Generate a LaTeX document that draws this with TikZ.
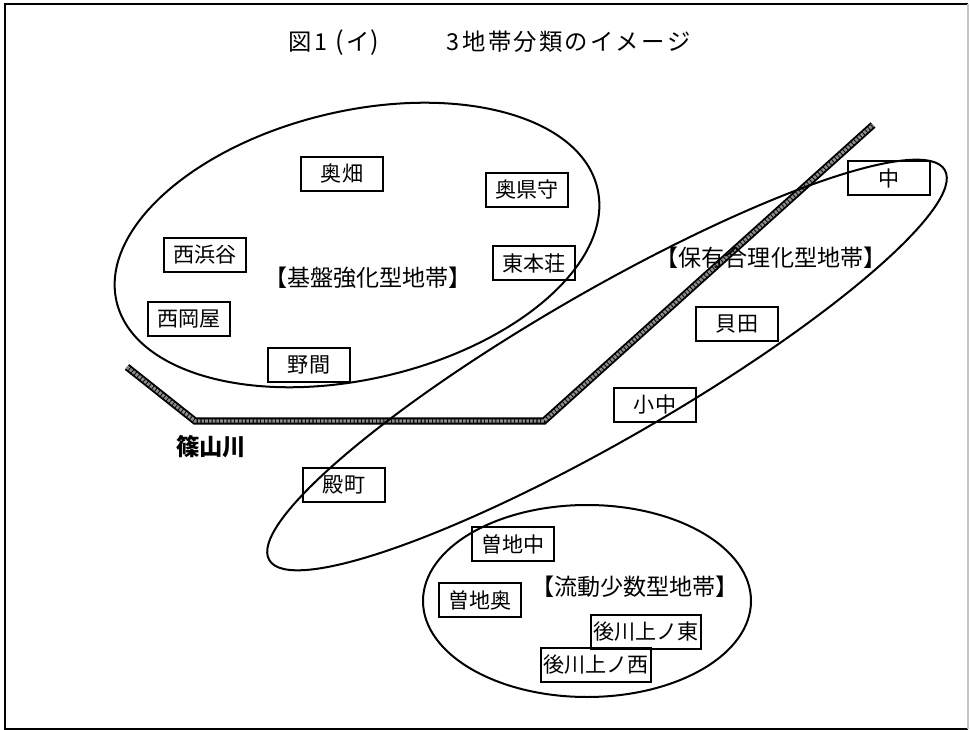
\documentclass[tikz,border=0pt]{standalone}
\usepackage{fontspec}
\newfontfamily\jp{Noto Sans CJK JP}
\newcommand\tcell[2]{\makebox[#1pt][c]{#2}}
\begin{document}
\begin{tikzpicture}[x=0.75pt,y=-0.75pt,
  box/.style={draw, line width=0.9pt, minimum width=61.5pt, minimum height=25.5pt,
    inner sep=0pt, font=\jp\fontsize{15.8pt}{15.8pt}\selectfont},
  wbox/.style={box, minimum width=82.5pt},
  zone/.style={inner sep=0pt, font=\jp\fontsize{17.3pt}{17.3pt}\selectfont},
  ring/.style={draw, line width=1.5pt},
  riverout/.style={line width=5.4pt, black, line join=miter},
  riverin/.style={line width=2.6pt, black!45, line join=miter, dash pattern=on 2pt off 0.8pt},
]
\useasboundingbox (0,0) rectangle (970,730);
% frame
\draw[line width=1.6pt] (968,4) -- (5,4) -- (5,729) -- (968,729);
\draw[line width=0.9pt, gray!45] (968,4) -- (968,729);

% title
\node[anchor=west, inner sep=0pt, font=\jp\fontsize{17.5pt}{17.5pt}\selectfont] (title) at (289,43)
 {\tcell{16.5}{図}\tcell{14.5}{1}\tcell{13.25}{\fontsize{19pt}{19pt}\selectfont(}\tcell{14.25}{イ}\tcell{12}{\fontsize{19pt}{19pt}\selectfont)}\hspace{46.5pt}\tcell{12}{3}%
  \tcell{19.2}{地}\tcell{19.2}{帯}\tcell{19.2}{分}\tcell{19.2}{類}\tcell{19.2}{の}\tcell{19.2}{イ}\tcell{19.2}{メ}\tcell{19.2}{ー}\tcell{19.2}{ジ}};

% river
\coordinate (r1) at (127,367);
\coordinate (r2) at (195,421);
\coordinate (r3) at (544,421);
\coordinate (r4) at (873,125);
\draw[riverout] (r1) -- (r2) -- (r3) -- (r4);
\draw[riverin] (r1) -- (r2) -- (r3) -- (r4);
\node[inner sep=0pt, font=\jp\bfseries\fontsize{17.5pt}{17.5pt}\selectfont] (river) at (211,447) {篠山川};

% zones
\draw[ring, rotate around={13.3:(357,245)}] (357,245) ellipse [x radius=247, y radius=134];
\draw[ring, rotate around={30:(607,365)}] (607,365) ellipse [x radius=390, y radius=74];
\draw[ring] (587,601) ellipse [x radius=164, y radius=96];

\node[zone] (zkiban) at (368,278) {【基盤強化型地帯】};
\node[zone] (zhoyu) at (771,258) {【保有合理化型地帯】};
\node[zone] (zryudo) at (635,587) {【流動少数型地帯】};

% villages
\node[box] (okuhata) at (342,174) {奥畑};
\node[box] (okuagatamori) at (527,190) {奥県守};
\node[box] (nishihamadani) at (205,255) {西浜谷};
\node[box] (higashihonjo) at (534,263) {東本荘};
\node[box] (nishiokaya) at (189,319) {西岡屋};
\node[box] (noma) at (309,365) {野間};
\node[box] (naka) at (889,178) {中};
\node[box] (kaida) at (737,324) {貝田};
\node[box] (konaka) at (655,405) {小中};
\node[box] (tonomachi) at (344,485) {殿町};
\node[box] (sojinaka) at (513,544) {曽地中};
\node[box] (sojioku) at (480,600) {曽地奥};
\node[wbox] (ushiroe) at (646,632) {後川上ノ東};
\node[wbox] (ushirow) at (596,665) {後川上ノ西};
\end{tikzpicture}
\end{document}
